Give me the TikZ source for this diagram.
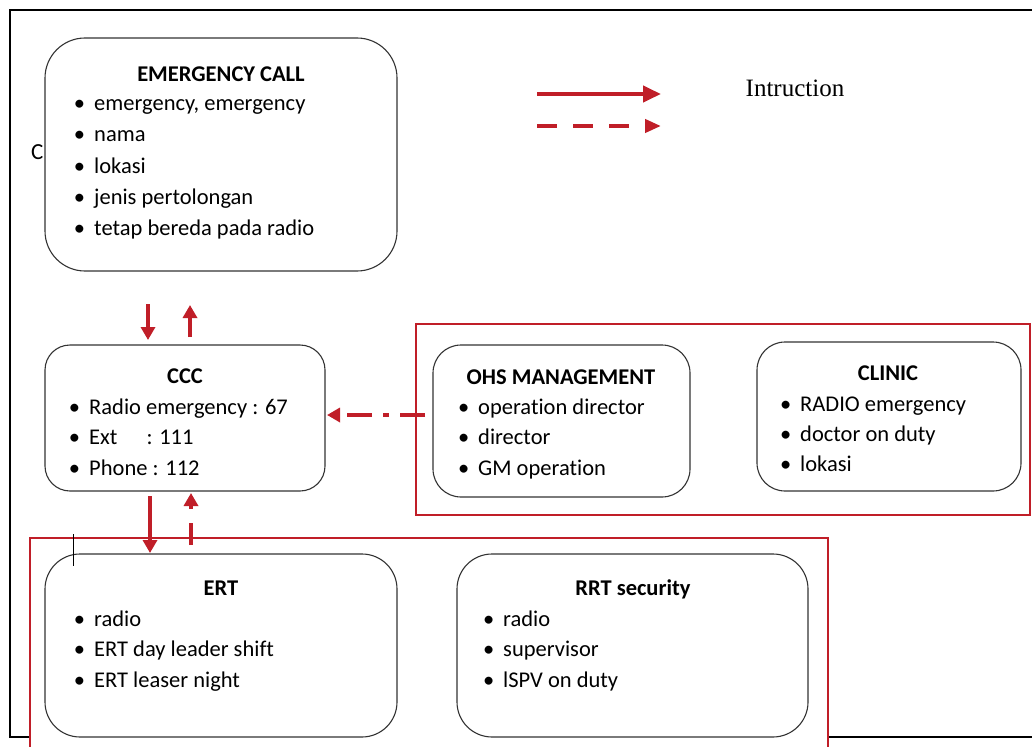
\documentclass[tikz,border=0pt]{standalone}
\usepackage{fontspec}
\setmainfont{Carlito}[Ligatures={NoCommon}]
\newfontfamily\serifkop{Liberation Serif}
\usetikzlibrary{arrows.meta}
\definecolor{merah}{RGB}{192,30,40}
\tikzset{
  kotak/.style = {rectangle, draw=black!80, line width=1.1pt, fill=white, rounded corners=28pt, inner sep=0, outer sep=0},
  grup/.style  = {rectangle, draw=merah, line width=2.8pt, fill=white, inner sep=0, outer sep=0},
  judul/.style = {anchor=base, inner sep=0, font=\fontsize{22.5}{27}\selectfont\bfseries},
  butir/.style = {anchor=base west, inner sep=0, font=\fontsize{22.5}{27}\selectfont,
                  execute at begin node={\llap{\textbullet\hspace{9pt}}}},
  panah/.style = {draw=merah, line width=4pt, -{Triangle[length=13pt,width=14pt]}},
  putus/.style = {panah, dash pattern=on 22pt off 14pt},
  titik/.style = {panah, dash pattern=on 25pt off 11pt on 6pt off 11pt}
}
\begin{document}
\begin{tikzpicture}[x=1pt,y=-1pt]
  \useasboundingbox (0,0) rectangle (1032,746);
  \clip (0,0) rectangle (1032,746);

  % frame
  \draw[line width=1.2pt] (1040,10) -- (10,10) -- (10,737) -- (1040,737);
  \node[anchor=base west, inner sep=0, font=\fontsize{23}{27}\selectfont] (huruf) at (31,160) {C};

  % groups
  \node[grup, minimum width=614, minimum height=191] (gkanan) at (723,419.5) {};
  \node[grup, minimum width=798, minimum height=222] (gbawah) at (429,649) {};

  % boxes
  \node[kotak, rounded corners=40pt, minimum width=352, minimum height=233] (call) at (221,154.5) {};
  \node[kotak, rounded corners=25pt, minimum width=280, minimum height=146] (ccc) at (185,418) {};
  \node[kotak, minimum width=257, minimum height=152] (ohs) at (561.5,421) {};
  \node[kotak, minimum width=264, minimum height=149] (clinic) at (889,416.5) {};
  \node[kotak, rounded corners=35pt, minimum width=352, minimum height=183] (ert) at (221,645.5) {};
  \node[kotak, rounded corners=35pt, minimum width=351, minimum height=183] (rrt) at (632.5,645.5) {};
  \draw[line width=0.8pt] (73,534) -- (73,566);

  % texts
  \node[judul] (callT) at (221,82) {EMERGENCY CALL};
  \node[butir] (call1) at (94,111) {emergency, emergency};
  \node[butir] (call2) at (94,142) {nama};
  \node[butir] (call3) at (94,173) {lokasi};
  \node[butir] (call4) at (94,204) {jenis pertolongan};
  \node[butir] (call5) at (94,235) {tetap bereda pada radio};

  \node[judul] (cccT) at (185,383) {CCC};
  \node[butir] (ccc1) at (89,414) {Radio emergency : 67};
  \node[butir] (ccc2) at (89,444) {Ext\hspace{29pt}: 111};
  \node[butir] (ccc3) at (89,475) {Phone : 112};

  \node[judul] (ohsT) at (561,384) {OHS MANAGEMENT};
  \node[butir] (ohs1) at (478,414) {operation director};
  \node[butir] (ohs2) at (478,444) {director};
  \node[butir] (ohs3) at (478,475) {GM operation};

  \node[judul] (clinicT) at (888,380) {CLINIC};
  \node[butir] (clinic1) at (800,411) {RADIO emergency};
  \node[butir] (clinic2) at (800,441) {doctor on duty};
  \node[butir] (clinic3) at (800,471) {lokasi};

  \node[judul] (ertT) at (221,595) {ERT};
  \node[butir] (ert1) at (94,626) {radio};
  \node[butir] (ert2) at (94,656) {ERT day leader shift};
  \node[butir] (ert3) at (94,687) {ERT leaser night};

  \node[judul] (rrtT) at (633,595) {RRT security};
  \node[butir] (rrt1) at (503,626) {radio};
  \node[butir] (rrt2) at (503,656) {supervisor};
  \node[butir] (rrt3) at (503,687) {lSPV on duty};

  % legend
  \coordinate (lg1) at (537,94);  \coordinate (lg2) at (661,94);
  \coordinate (lg3) at (537,126); \coordinate (lg4) at (661,126);
  \draw[panah, -{Triangle[length=18pt,width=16pt]}] (lg1) -- (lg2);
  \draw[panah, dash pattern=on 20pt off 16pt, -{Triangle[length=16pt,width=13pt]}] (lg3) -- (lg4);
  \node[anchor=base, inner sep=0, font=\serifkop\fontsize{25}{30}\selectfont] (ket) at (795,97) {Intruction};

  % arrows
  \draw[panah] ([xshift=-73pt,yshift=-33pt]call.south) -- ([xshift=-37pt,yshift=5pt]ccc.north);
  \draw[panah] ([xshift=5pt,yshift=8pt]ccc.north) -- ([xshift=-31pt,yshift=-34pt]call.south);
  \draw[panah] ([xshift=-35pt,yshift=-5pt]ccc.south) -- ([xshift=-71pt,yshift=1pt]ert.north);
  \draw[putus] ([xshift=-30pt,yshift=9pt]ert.north) -- ([xshift=6pt,yshift=-2pt]ccc.south);
  \draw[titik] ([xshift=-8pt,yshift=6pt]ohs.west) -- ([xshift=2pt,yshift=3pt]ccc.east);
\end{tikzpicture}
\end{document}
